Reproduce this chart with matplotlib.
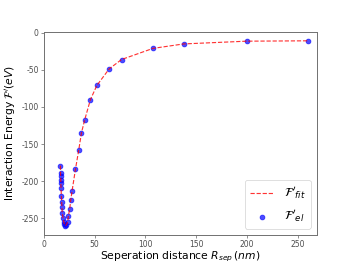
import matplotlib.pyplot as plt
plt.switch_backend('agg')
plt.rcParams['axes.unicode_minus'] = False

# separation distance (nm) and interaction energy (eV)
r_sep = [16.2, 16.3, 16.4, 16.5, 16.6, 16.8, 17.1, 17.4, 17.7, 18.0, 18.8,
         19.5, 20.1, 21.1, 22.0, 23.4, 24.0, 25.4, 26.4, 27.7, 31.0, 34.3,
         36.9, 40.2, 45.8, 52.1, 64.3, 76.5, 107.5, 137.8, 199.8, 260.8]
f_el = [-179, -189, -193, -198, -202, -209.5, -220, -228, -235, -243, -250,
        -254.5, -257.7, -260, -259, -254.5, -247, -237, -225, -213, -184, -157.7,
        -135, -117, -90, -71, -48.6, -36, -21, -15, -11.3, -10.8]

fig, ax = plt.subplots(figsize=(6.4, 4.8), dpi=55)

ax.plot(r_sep, f_el, 'r--', alpha=0.8, linewidth=1.5, label=r"$\mathcal{F}'_{fit}$")
ax.scatter(r_sep, f_el, s=40, color='blue', alpha=0.7, label=r"$\mathcal{F}'_{el}$")

ax.set_xlim(0, 269)
ax.set_ylim(-272.5, 1.5)
ax.set_xlabel(r"Seperation distance $R_{sep}\,(nm)$", fontsize=14, labelpad=1)
ax.set_ylabel(r"Interaction Energy $\mathcal{F}'(eV)$", fontsize=14)
ax.tick_params(labelsize=10, colors='0.3')
for s in ax.spines.values():
    s.set_color('0.45')
    s.set_linewidth(1.3)
ax.legend(loc='lower right', fontsize=16)

plt.savefig('out.png')
